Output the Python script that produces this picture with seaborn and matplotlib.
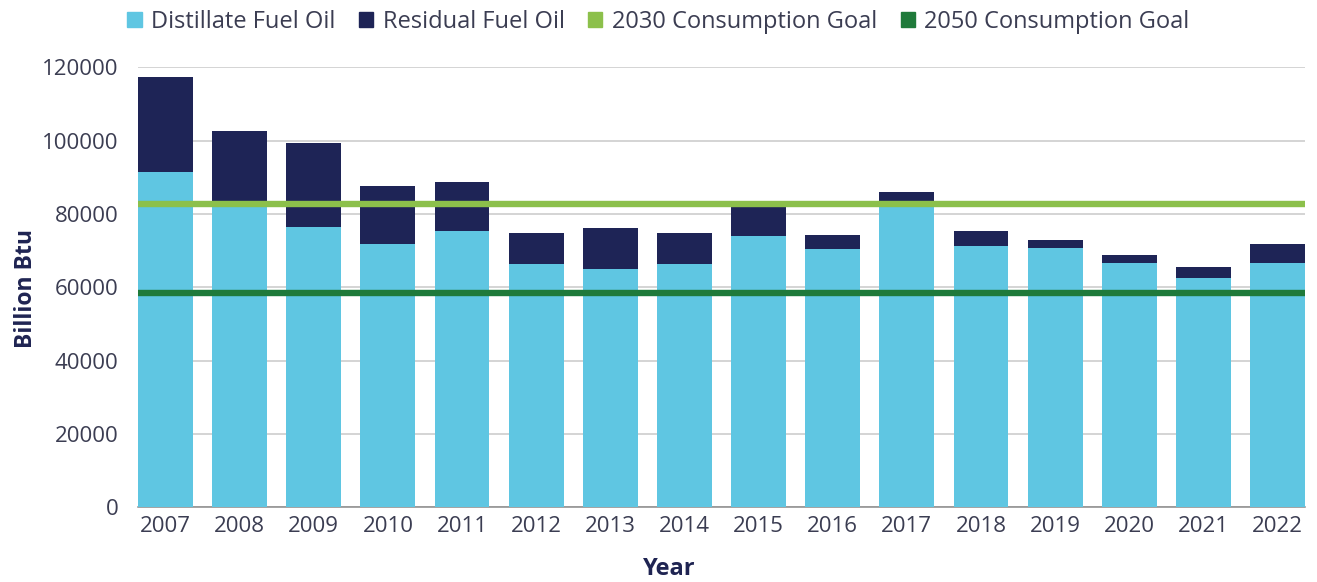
import pandas as pd
import matplotlib.pyplot as plt
import seaborn as sns
from matplotlib.patches import Patch

# Data (Billion Btu)
years = ["2007", "2008", "2009", "2010", "2011", "2012", "2013", "2014",
         "2015", "2016", "2017", "2018", "2019", "2020", "2021", "2022"]
distillate = [91400, 83600, 76500, 71700, 75400, 66300, 64900, 66300,
              74000, 70400, 83400, 71300, 70600, 66600, 62600, 66600]
residual = [26000, 19000, 22800, 16000, 13400, 8400, 11200, 8400,
            9600, 3900, 2500, 4100, 2200, 2200, 2900, 5100]
goal_2030 = 82800
goal_2050 = 58500

# Colours
C_DIST = "#5fc6e2"
C_RESID = "#1e2456"
C_2030 = "#8cc04b"
C_2050 = "#1f7a3a"
C_TEXT = "#3b3d52"
C_LABEL = "#1f2452"

sns.set_theme(style="white")
plt.rcParams["font.family"] = ["Open Sans", "DejaVu Sans"]

df = pd.DataFrame({"Year": years, "Distillate": distillate, "Residual": residual})
df["Total"] = df["Distillate"] + df["Residual"]

fig = plt.figure(figsize=(13.17, 5.82), dpi=100)
ax = fig.add_axes([0.1048, 0.1284, 0.8861, 0.756])

W = 0.74
# stacked bars: draw totals first, then distillate on top of them
sns.barplot(data=df, x="Year", y="Total", color=C_RESID, width=W,
            saturation=1, linewidth=0, edgecolor="none", ax=ax, zorder=2)
sns.barplot(data=df, x="Year", y="Distillate", color=C_DIST, width=W,
            saturation=1, linewidth=0, edgecolor="none", ax=ax, zorder=3)

ax.axhline(goal_2030, color=C_2030, lw=4.6, zorder=4)
ax.axhline(goal_2050, color=C_2050, lw=4.6, zorder=4)

ax.set_xlim(-W / 2, len(years) - 1 + W / 2)
ax.set_ylim(0, 120000)
ax.set_yticks(range(0, 120001, 20000))
ax.yaxis.grid(True, color="#c9c9c9", lw=1.1, zorder=0)
ax.set_axisbelow(True)
for s in ["top", "right", "left"]:
    ax.spines[s].set_visible(False)
ax.spines["bottom"].set_color("#8a8a8a")
ax.spines["bottom"].set_linewidth(1.1)
ax.spines["bottom"].set_zorder(1)

ax.tick_params(axis="both", length=0, labelsize=16, labelcolor=C_TEXT)
ax.tick_params(axis="y", pad=14)
ax.tick_params(axis="x", pad=6)
ax.set_xlabel("")
ax.set_ylabel("")

fig.text(0.02, 0.505, "Billion Btu", rotation=90, ha="center", va="center",
         fontsize=16.5, fontweight="bold", color=C_LABEL)
fig.text(0.508, 0.022, "Year", ha="center", va="center",
         fontsize=17, fontweight="bold", color=C_LABEL)

handles = [Patch(color=C_DIST, label="Distillate Fuel Oil"),
           Patch(color=C_RESID, label="Residual Fuel Oil"),
           Patch(color=C_2030, label="2030 Consumption Goal"),
           Patch(color=C_2050, label="2050 Consumption Goal")]
leg = fig.legend(handles=handles, loc="center", bbox_to_anchor=(0.5, 0.963),
                 ncol=4, frameon=False, fontsize=17, handlelength=0.6,
                 handleheight=0.6, handletextpad=0.4, columnspacing=1.0)
for t in leg.get_texts():
    t.set_color(C_TEXT)

fig.savefig("out.png", dpi=100)
